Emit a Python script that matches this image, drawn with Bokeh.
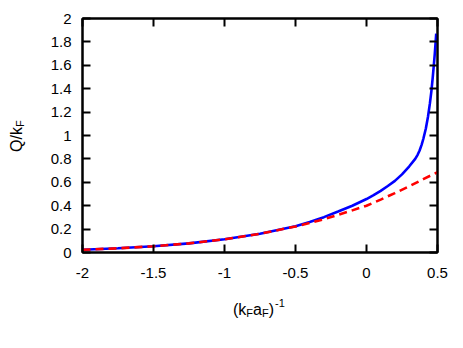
from bokeh.plotting import figure
from bokeh.models import LinearAxis, FixedTicker, Range1d, Div
from bokeh.layouts import row, column
from bokeh.embed import file_html
from bokeh.resources import INLINE

# ---- data ----
blue_x = [-2.0, -1.75, -1.5, -1.25, -1.0, -0.75, -0.5, -0.4, -0.3, -0.2, -0.1, 0.0,
          0.05, 0.1, 0.15, 0.2, 0.25, 0.3, 0.343, 0.36, 0.374, 0.388, 0.40, 0.418,
          0.433, 0.446, 0.457, 0.466, 0.474, 0.481, 0.486, 0.491]
blue_y = [0.023, 0.036, 0.053, 0.078, 0.113, 0.160, 0.225, 0.260, 0.302, 0.350, 0.400, 0.457,
          0.490, 0.527, 0.568, 0.612, 0.668, 0.735, 0.800, 0.835, 0.872, 0.920, 0.970, 1.06,
          1.16, 1.27, 1.38, 1.49, 1.60, 1.70, 1.785, 1.87]

red_x = [-2.0, -1.75, -1.5, -1.25, -1.0, -0.75, -0.5, -0.4, -0.3, -0.2, -0.1, 0.0,
         0.1, 0.2, 0.3, 0.4, 0.5]
red_y = [0.023, 0.036, 0.053, 0.078, 0.113, 0.160, 0.222, 0.252, 0.285, 0.322, 0.360, 0.400,
         0.452, 0.508, 0.565, 0.627, 0.686]

x_ticks = [-2, -1.5, -1, -0.5, 0, 0.5]
x_tick_labels = ["-2", "-1.5", "-1", "-0.5", "0", "0.5"]
y_ticks = [0, 0.2, 0.4, 0.6, 0.8, 1.0, 1.2, 1.4, 1.6, 1.8, 2.0]
y_tick_labels = ["0", "0.2", "0.4", "0.6", "0.8", "1", "1.2", "1.4", "1.6", "1.8", "2"]

FONT = "Liberation Sans"
LEFT_W = 30          # width of the column holding the rotated y title
FIG_W, FIG_H = 425, 290
XT_H = 45

p = figure(width=FIG_W, height=FIG_H, output_backend="svg", toolbar_location=None,
           x_range=Range1d(-2, 0.5), y_range=Range1d(0, 2),
           min_border_left=52, min_border_right=18, min_border_top=18, min_border_bottom=38)
p.grid.visible = False
p.outline_line_color = "black"
p.outline_line_width = 2
p.background_fill_color = "white"
p.border_fill_color = "white"

def style_axis(ax, ticks, labels, show_labels, standoff):
    ax.ticker = FixedTicker(ticks=ticks)
    ax.major_tick_in = 8
    ax.major_tick_out = 0
    ax.major_tick_line_width = 2
    ax.major_tick_line_color = "black"
    ax.minor_tick_line_color = None
    ax.axis_line_width = 2
    ax.axis_line_color = "black"
    ax.major_label_standoff = standoff
    ax.major_label_text_font = FONT
    if show_labels:
        ax.major_label_overrides = {t: l for t, l in zip(ticks, labels)}
        ax.major_label_text_font_size = "15px"
        ax.major_label_text_color = "black"
    else:
        ax.major_label_text_color = None
        ax.major_label_text_font_size = "1px"

style_axis(p.xaxis[0], x_ticks, x_tick_labels, True, 15)
style_axis(p.yaxis[0], y_ticks, y_tick_labels, True, 11)

top_ax = LinearAxis()
style_axis(top_ax, x_ticks, x_tick_labels, False, 0)
p.add_layout(top_ax, "above")
right_ax = LinearAxis()
style_axis(right_ax, y_ticks, y_tick_labels, False, 0)
p.add_layout(right_ax, "right")

p.line(blue_x, blue_y, line_color="#0000ff", line_width=2.6)
p.line(red_x, red_y, line_color="#ff0000", line_width=2.6, line_dash="8 5")

# ---- axis titles as HTML text with real sub/superscripts ----
SUB = 'font-size:11px;position:relative;top:2px;'
SUP = 'font-size:11px;position:relative;top:-8px;margin-left:1px;'
BASE = f"font-family:'{FONT}';font-size:16px;line-height:16px;color:black;white-space:nowrap;"

x_title_html = (
    f'<div style="position:relative;width:{FIG_W}px;height:{XT_H}px;">'
    f'<div style="position:absolute;left:203px;top:12px;{BASE}">'
    f'(k<span style="{SUB}">F</span>a<span style="{SUB}">F</span>)'
    f'<span style="{SUP}">-1</span></div></div>'
)
y_title_html = (
    f'<div style="position:relative;width:{LEFT_W}px;height:{FIG_H}px;">'
    f'<div style="position:absolute;left:9px;top:152px;transform:rotate(-90deg);'
    f'transform-origin:left top;{BASE}">'
    f'Q/k<span style="{SUB}">F</span></div></div>'
)

x_title = Div(text=x_title_html, width=FIG_W, height=XT_H, margin=0)
y_title = Div(text=y_title_html, width=LEFT_W, height=FIG_H, margin=0)

layout = row(y_title, column(p, x_title, spacing=0), spacing=0)

open("out.html", "w").write(file_html(layout, INLINE))
